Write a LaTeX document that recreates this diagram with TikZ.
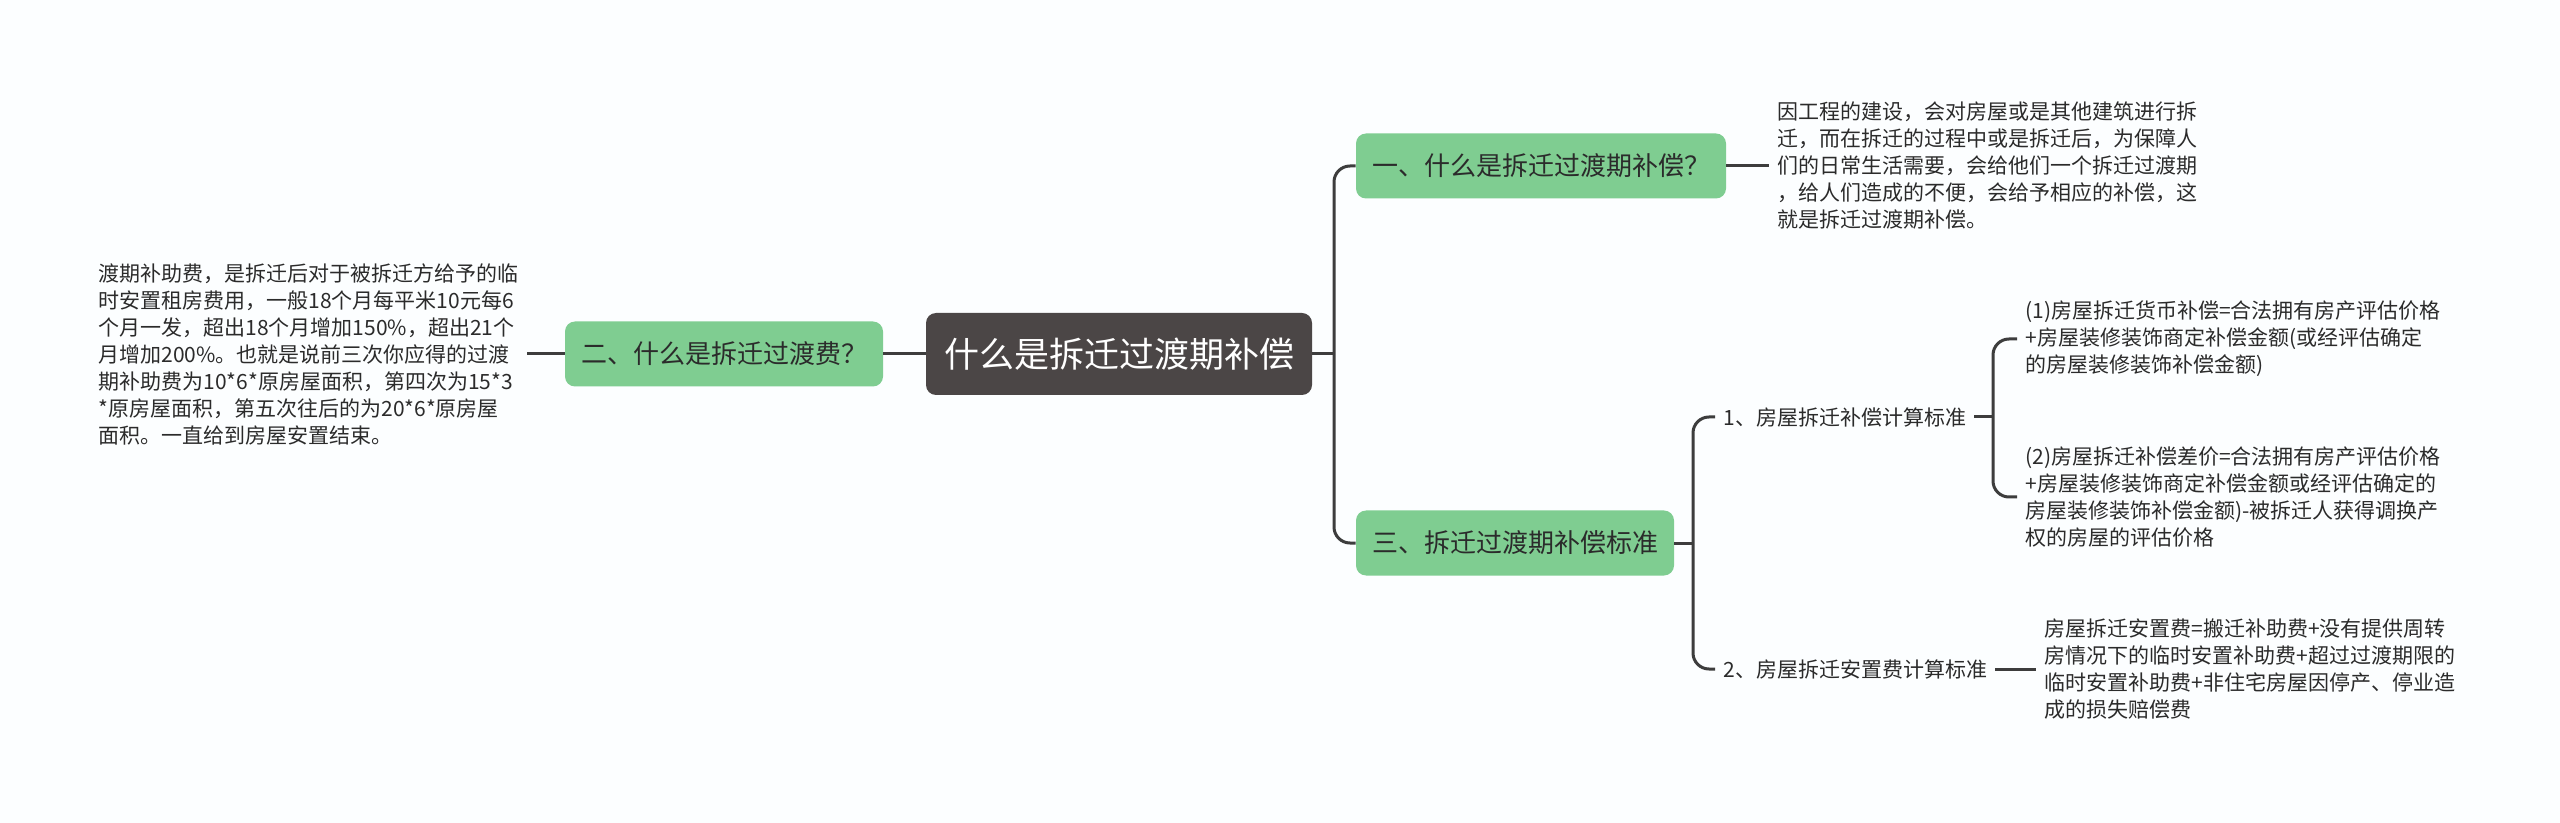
\documentclass[tikz,border=0pt]{standalone}
\usepackage{fontspec}
\setmainfont{Noto Sans CJK SC}
\definecolor{leaf}{HTML}{7FCD91}
\definecolor{rootfill}{HTML}{4B4646}
\definecolor{linecol}{HTML}{3D3D3D}
\definecolor{inkcol}{HTML}{2B2B2B}
\definecolor{bgcol}{HTML}{FCFEFF}

\begin{document}
\begin{tikzpicture}[x=0.5pt,y=-0.5pt,
    rootbox/.style={fill=rootfill, text=white, rounded corners=5pt, minimum height=41pt, inner xsep=9pt, inner ysep=0pt, font=\fontsize{17.5pt}{21pt}\selectfont},
    greenbox/.style={fill=leaf, text=inkcol, rounded corners=5pt, minimum height=32.5pt, inner xsep=8pt, inner ysep=0pt, font=\fontsize{13pt}{16pt}\selectfont},
    note/.style={text=inkcol, align=left, inner xsep=4pt, inner ysep=0pt, font=\fontsize{10.5pt}{13.5pt}\selectfont},
    conn/.style={line width=1.5pt, color=linecol, rounded corners=8pt}]

        % background
        \fill[bgcol] (0,0) rectangle (2560,823);

        % centre
        \node[rootbox] (root) at (1119,354) {什么是拆迁过渡期补偿};

        % main branches
        \node[greenbox] (q1) at (1541,166) {一、什么是拆迁过渡期补偿？};
        \node[greenbox] (q2) at (724,354) {二、什么是拆迁过渡费？};
        \node[greenbox] (q3) at (1515,543) {三、拆迁过渡期补偿标准};

        % texts
        \node[note, anchor=west] (a1) at (1769,166) {因工程的建设，会对房屋或是其他建筑进行拆\\迁，而在拆迁的过程中或是拆迁后，为保障人\\们的日常生活需要，会给他们一个拆迁过渡期\\，给人们造成的不便，会给予相应的补偿，这\\就是拆迁过渡期补偿。};
        \node[note, anchor=east] (a2) at (527,354) {渡期补助费，是拆迁后对于被拆迁方给予的临\\时安置租房费用，一般18个月每平米10元每6\\个月一发，超出18个月增加150\%，超出21个\\月增加200\%。也就是说前三次你应得的过渡\\期补助费为10*6*原房屋面积，第四次为15*3\\*原房屋面积，第五次往后的为20*6*原房屋\\面积。一直给到房屋安置结束。};

        % standards
        \node[note, anchor=west] (s1) at (1715,417) {1、房屋拆迁补偿计算标准};
        \node[note, anchor=west] (s2) at (1715,669) {2、房屋拆迁安置费计算标准};
        \node[note, anchor=west] (c1) at (2017,339) {(1)房屋拆迁货币补偿=合法拥有房产评估价格\\+房屋装修装饰商定补偿金额(或经评估确定\\的房屋装修装饰补偿金额)};
        \node[note, anchor=west] (c2) at (2017,497) {(2)房屋拆迁补偿差价=合法拥有房产评估价格\\+房屋装修装饰商定补偿金额或经评估确定的\\房屋装修装饰补偿金额)-被拆迁人获得调换产\\权的房屋的评估价格};
        \node[note, anchor=west] (c3) at (2036,669) {房屋拆迁安置费=搬迁补助费+没有提供周转\\房情况下的临时安置补助费+超过过渡期限的\\临时安置补助费+非住宅房屋因停产、停业造\\成的损失赔偿费};

        % joints
        \coordinate (j1) at (1334,354);
        \coordinate (j2) at (1693,543);
        \coordinate (j3) at (1993,417);

        % connectors
        \draw[conn] (root.east) -- (j1);
        \draw[conn] (q1.west) -| (j1) |- (q3.west);
        \draw[conn] (root.west) -- (q2.east);
        \draw[conn] (q2.west) -- (a2.east);
        \draw[conn] (q1.east) -- (a1.west);
        \draw[conn] (q3.east) -- (j2);
        \draw[conn] (s1.west) -| (j2) |- (s2.west);
        \draw[conn] (s1.east) -- (j3);
        \draw[conn] (c1.west) -| (j3) |- (c2.west);
        \draw[conn] (s2.east) -- (c3.west);
    \end{tikzpicture}
\end{document}
